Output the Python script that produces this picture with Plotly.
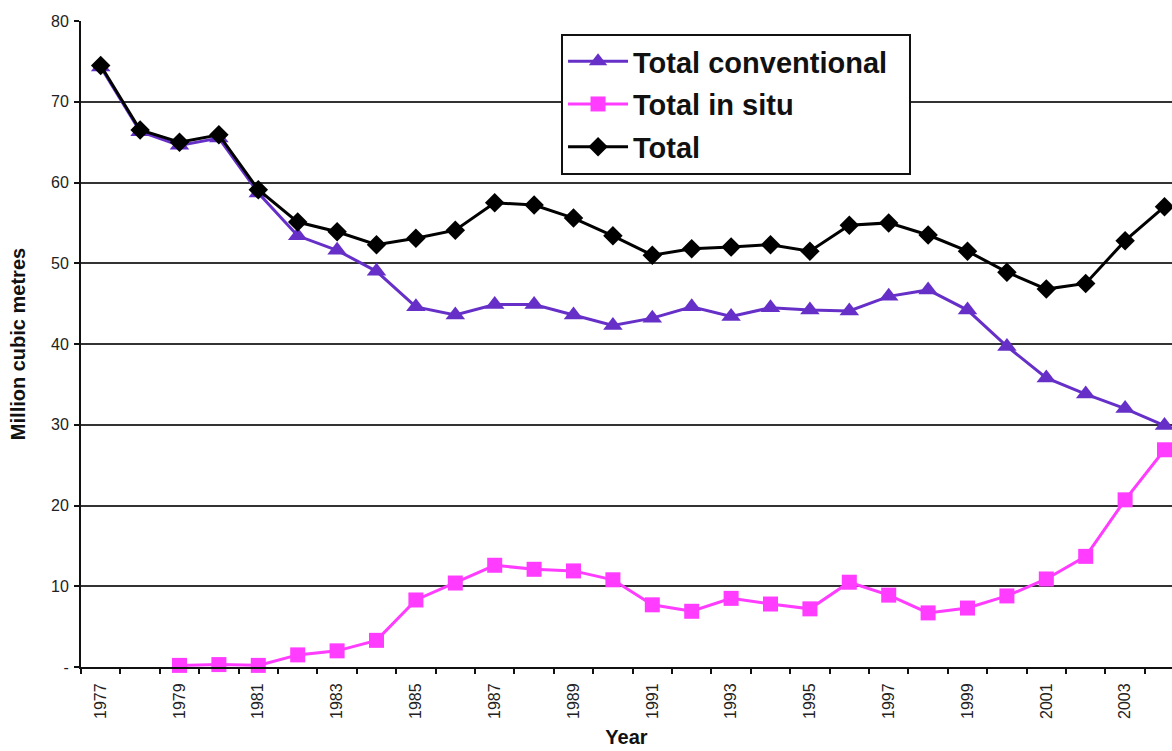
import plotly.graph_objects as go

# Annual production, million cubic metres
years = list(range(1977, 2005))

total_conventional = [
    74.3, 66.3, 64.6, 65.5, 58.7, 53.4, 51.6, 49.0, 44.6, 43.6,
    44.9, 44.9, 43.6, 42.3, 43.2, 44.6, 43.4, 44.5, 44.2, 44.1,
    45.9, 46.7, 44.2, 39.7, 35.8, 33.8, 32.0, 29.9,
]

total_in_situ = [
    None, None, 0.2, 0.3, 0.2, 1.5, 2.0, 3.3, 8.3, 10.4,
    12.6, 12.1, 11.9, 10.8, 7.7, 6.9, 8.5, 7.8, 7.2, 10.5,
    8.9, 6.7, 7.3, 8.8, 10.9, 13.7, 20.7, 26.9,
]

total = [
    74.5, 66.5, 65.0, 65.9, 59.1, 55.1, 53.9, 52.3, 53.1, 54.1,
    57.5, 57.2, 55.6, 53.4, 51.0, 51.8, 52.0, 52.3, 51.5, 54.7,
    55.0, 53.5, 51.5, 48.9, 46.8, 47.5, 52.8, 57.0,
]

x_tick_years = list(range(1977, 2004, 2))
y_tick_values = list(range(0, 81, 10))
y_tick_labels = ["-"] + [str(v) for v in y_tick_values[1:]]

FONT = "Liberation Sans, Arial, sans-serif"
# trailing no-break spaces give the legend box some room on the right
PAD = "\u00a0\u00a0"

fig = go.Figure()

fig.add_trace(go.Scatter(
    x=years, y=total_conventional, name="Total conventional" + PAD,
    mode="lines+markers", legendgroup="a",
    line=dict(color="#6630c8", width=3),
    marker=dict(symbol="triangle-up", size=17, color="#6630c8"),
    cliponaxis=False,
))
fig.add_trace(go.Scatter(
    x=years, y=total_in_situ, name="Total in situ",
    mode="lines+markers", legendgroup="b",
    line=dict(color="#ff3cff", width=3),
    marker=dict(symbol="square", size=15, color="#ff3cff"),
    cliponaxis=False,
))
fig.add_trace(go.Scatter(
    x=years, y=total, name="Total",
    mode="lines+markers", legendgroup="c",
    line=dict(color="#000000", width=3),
    marker=dict(symbol="diamond", size=15, color="#000000"),
    cliponaxis=False,
))

fig.update_layout(
    width=1172, height=751,
    margin=dict(l=81, r=0, t=21, b=84),
    paper_bgcolor="white", plot_bgcolor="white",
    font=dict(family=FONT, color="#222222"),
    showlegend=True,
    legend=dict(
        x=0.44, y=0.98, xanchor="left", yanchor="top",
        bgcolor="white", bordercolor="#111111", borderwidth=2,
        font=dict(family=FONT, size=29, color="#111111", weight="bold"),
        itemwidth=60, tracegroupgap=2, traceorder="grouped",
    ),
    xaxis=dict(
        range=[1976.5, 2004.19],
        tickmode="array", tickvals=x_tick_years,
        ticktext=[str(y) for y in x_tick_years],
        tickangle=-90, ticks="",
        tickfont=dict(family=FONT, size=16, color="#222222"),
        ticklabelstandoff=8,
        showgrid=False, zeroline=False,
        showline=True, linecolor="#111111", linewidth=2,
        minor=dict(tick0=1976.5, dtick=1, ticks="outside", ticklen=5,
                   tickcolor="#111111", tickwidth=2, showgrid=False),
        title=dict(text="Year", standoff=12,
                   font=dict(family=FONT, size=20, color="#111111", weight="bold")),
    ),
    yaxis=dict(
        range=[0, 80],
        tickmode="array", tickvals=y_tick_values, ticktext=y_tick_labels,
        ticks="outside", ticklen=5, tickcolor="#111111", tickwidth=2,
        tickfont=dict(family=FONT, size=16, color="#222222"),
        ticklabelstandoff=2,
        showgrid=True, gridcolor="#333333", gridwidth=2,
        zeroline=False,
        showline=True, linecolor="#111111", linewidth=2,
        title=dict(text="Million cubic metres", standoff=20,
                   font=dict(family=FONT, size=20, color="#111111", weight="bold")),
    ),
)

fig.write_html("out.html")
